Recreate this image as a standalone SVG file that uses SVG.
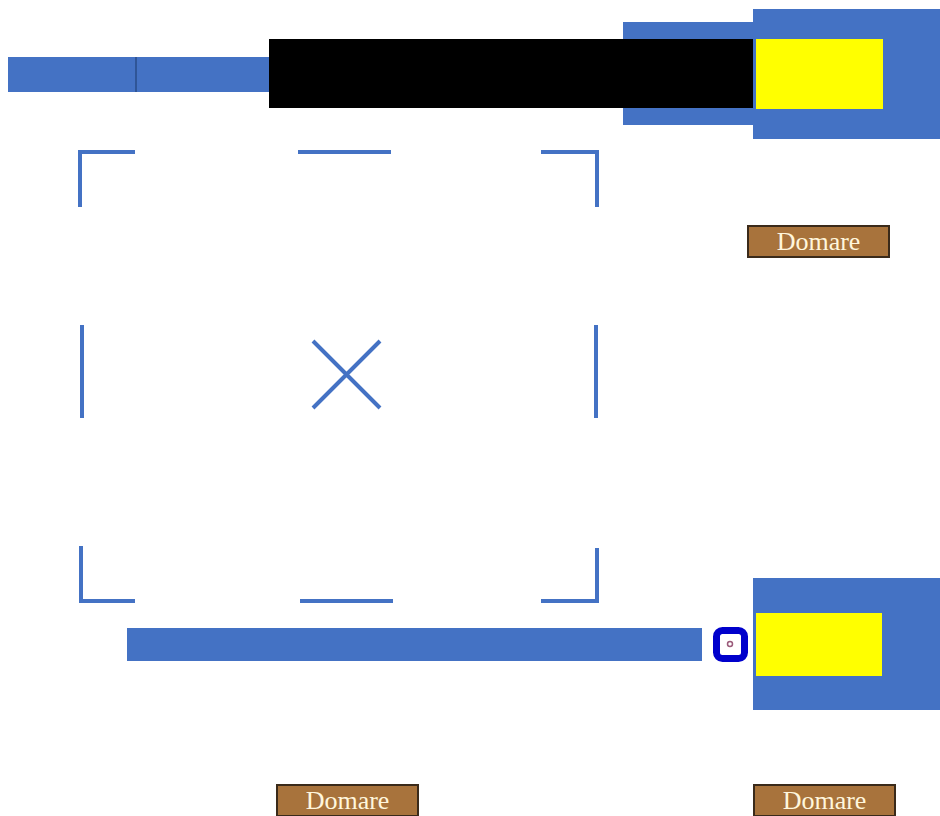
<svg xmlns="http://www.w3.org/2000/svg" width="940" height="816" viewBox="0 0 940 816">
<style>
.blue{fill:#4472C4}
.yel{fill:#FFFF00}
.br{fill:none;stroke:#4472C4;stroke-width:4;stroke-linecap:butt}
.lab rect{fill:#A8733C;stroke:#3a2a1a;stroke-width:2}
.lab text{font-family:"Liberation Serif",serif;font-size:26px;fill:#FFF6DC;text-anchor:middle}
</style>
<rect width="940" height="816" fill="#fff"/>
<g id="top-cable">
<rect class="blue" x="8" y="57" width="264" height="35"/>
<line x1="136" y1="57" x2="136" y2="92" stroke="#2f5597" stroke-width="2"/>
<rect class="blue" x="623" y="22" width="132" height="103"/>
<rect x="269" y="39" width="487" height="69" fill="#000"/>
<rect class="blue" x="753" y="9" width="187" height="130"/>
<rect class="yel" x="756" y="39" width="127" height="70"/>
</g>
<g id="frame">
<path class="br" d="M80,207 V152 H135"/>
<path class="br" d="M298,152 H391"/>
<path class="br" d="M541,152 H597 V207"/>
<path class="br" d="M82,325 V418"/>
<path class="br" d="M596,325 V418"/>
<path class="br" d="M81,546 V601 H135"/>
<path class="br" d="M300,601 H393"/>
<path class="br" d="M541,601 H597 V548"/>
<path class="br" d="M313,341 L380,408 M380,341 L313,408"/>
</g>
<g id="bottom-cable">
<rect class="blue" x="127" y="628" width="575" height="33"/>
<rect x="716.5" y="630.5" width="28" height="28" rx="6" fill="#fff" stroke="#0000CC" stroke-width="7"/>
<circle cx="730" cy="644" r="2.5" fill="none" stroke="#9a5a7a" stroke-width="1.5"/>
<rect class="blue" x="753" y="578" width="187" height="132"/>
<rect class="yel" x="756" y="613" width="126" height="63"/>
</g>
<g id="label1" class="lab"><rect x="748" y="226" width="141" height="31"/><text x="818.5" y="250">Domare</text></g>
<g id="label2" class="lab"><rect x="277" y="785" width="141" height="31"/><text x="347.5" y="809">Domare</text></g>
<g id="label3" class="lab"><rect x="754" y="785" width="141" height="31"/><text x="824.5" y="809">Domare</text></g>
</svg>
